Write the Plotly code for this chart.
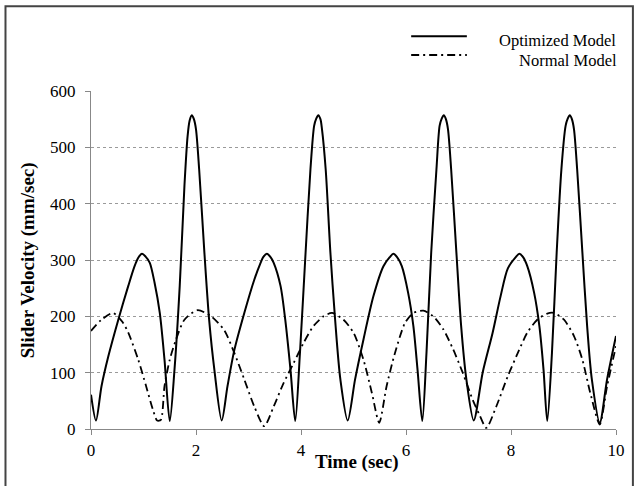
import plotly.graph_objects as go

# Time (sec) and slider velocity (mm/sec)
opt_t = [0.00, 0.095, 0.20, 0.33, 0.52, 0.71, 0.83, 0.90, 0.97, 1.04, 1.12, 1.21, 1.31, 1.40, 1.50,
         1.59, 1.69, 1.78, 1.84, 1.88, 1.92, 1.96, 2.00, 2.06, 2.16, 2.25, 2.35, 2.49,
         2.60, 2.73, 2.92, 3.11, 3.23, 3.28, 3.35, 3.42, 3.48, 3.61, 3.70, 3.80, 3.89,
         3.98, 4.08, 4.18, 4.25, 4.29, 4.33, 4.37, 4.40, 4.47, 4.56, 4.65, 4.75, 4.89,
         5.03, 5.19, 5.38, 5.57, 5.69, 5.76, 5.83, 5.92, 6.04, 6.14, 6.22, 6.31,
         6.39, 6.48, 6.58, 6.64, 6.68, 6.72, 6.76, 6.80, 6.86, 6.96, 7.05, 7.15, 7.29,
         7.46, 7.65, 7.80, 7.94, 8.09, 8.16, 8.23, 8.31, 8.44, 8.54, 8.62, 8.69,
         8.78, 8.87, 8.96, 9.04, 9.08, 9.12, 9.16, 9.20, 9.26, 9.36, 9.45, 9.54, 9.69,
         9.83, 10.00]
opt_v = [61, 15, 76, 129, 194, 254, 289, 304, 311, 306, 295, 260, 206, 123, 14,
         105, 254, 432, 520, 548, 557, 550, 532, 461, 313, 194, 105, 15,
         76, 140, 206, 265, 295, 305, 311, 305, 295, 254, 194, 105, 14,
         135, 301, 461, 538, 551, 557, 550, 532, 461, 313, 194, 88, 15,
         88, 159, 236, 289, 305, 311, 305, 289, 242, 183, 105, 14,
         135, 313, 461, 538, 551, 557, 550, 532, 461, 313, 183, 88, 15,
         100, 171, 235, 285, 305, 311, 305, 289, 242, 183, 105, 14,
         135, 313, 461, 538, 551, 557, 550, 532, 461, 313, 183, 88, 11,
         88, 165]

norm_t = [0.00, 0.20, 0.42, 0.60, 0.71, 0.90, 1.05, 1.18, 1.26, 1.33, 1.40, 1.50, 1.62,
          1.78, 2.03, 2.29, 2.54, 2.73, 2.92, 3.11, 3.30, 3.48, 3.67, 3.86, 4.05,
          4.24, 4.43, 4.59, 4.81, 5.00, 5.19, 5.35, 5.49, 5.63, 5.79, 5.98, 6.14,
          6.33, 6.52, 6.71, 6.90, 7.08, 7.27, 7.40, 7.53, 7.72, 7.94, 8.13, 8.31,
          8.50, 8.69, 8.82, 9.01, 9.20, 9.36, 9.51, 9.69, 9.83, 10.00]
norm_v = [174, 194, 206, 190, 171, 123, 76, 34, 15, 16, 76, 123, 159,
          194, 211, 200, 175, 135, 88, 40, 5, 40, 82, 117, 153,
          183, 200, 206, 194, 171, 123, 64, 11, 76, 135, 188, 206,
          210, 200, 177, 141, 100, 52, 25, 2, 40, 94, 135, 171,
          194, 205, 206, 194, 165, 123, 64, 8, 76, 147]

x_ticks = [0, 2, 4, 6, 8, 10]
y_ticks = [0, 100, 200, 300, 400, 500, 600]

FONT = "Liberation Serif, Times New Roman, serif"
DASHDOT = "8px,4px,2px,4px"

fig = go.Figure()
fig.add_trace(go.Scatter(x=opt_t, y=opt_v, mode="lines", name="Optimized Model",
                         line=dict(color="black", width=2, shape="spline", smoothing=0.8)))
fig.add_trace(go.Scatter(x=norm_t, y=norm_v, mode="lines", name="Normal Model",
                         line=dict(color="black", width=1.8, shape="spline", smoothing=0.7,
                                   dash=DASHDOT)))

fig.update_layout(
    width=637, height=486,
    margin=dict(l=91, r=18, t=91, b=57, pad=0),
    paper_bgcolor="white", plot_bgcolor="white",
    showlegend=False,
    font=dict(family=FONT, size=17, color="black"),
)
fig.update_xaxes(range=[0, 10], tickvals=x_ticks, ticks="outside", ticklen=5,
                 tickcolor="#888888", showline=True, linecolor="#888888", linewidth=1,
                 showgrid=False, zeroline=False, ticklabelstandoff=1,
                 tickfont=dict(family=FONT, size=17, color="black"))
fig.update_yaxes(range=[0, 600], tickvals=y_ticks, ticks="outside", ticklen=5,
                 tickcolor="#888888", showline=True, linecolor="#888888", linewidth=1,
                 showgrid=True, gridcolor="#9a9a9a", griddash="dot", gridwidth=1,
                 zeroline=False, ticklabelstandoff=6,
                 tickfont=dict(family=FONT, size=17, color="black"))

# axis titles
fig.add_annotation(text="<b>Time (sec)</b>", xref="paper", yref="paper",
                   x=(359 - 91) / 528, y=(428.7 - 462) / 338, showarrow=False,
                   xanchor="center", yanchor="middle",
                   font=dict(family=FONT, size=19, color="black"))
fig.add_annotation(text="<b>Slider Velocity (mm/sec)</b>", xref="paper", yref="paper",
                   x=(28 - 91) / 528, y=0.5, showarrow=False, textangle=-90,
                   xanchor="center", yanchor="middle",
                   font=dict(family=FONT, size=19, color="black"))

# legend
fig.add_shape(type="line", xref="paper", yref="paper",
              x0=(413 - 91) / 528, x1=(469 - 91) / 528,
              y0=(428.7 - 36) / 338, y1=(428.7 - 36) / 338,
              line=dict(color="black", width=2))
fig.add_shape(type="line", xref="paper", yref="paper",
              x0=(413 - 91) / 528, x1=(469 - 91) / 528,
              y0=(428.7 - 54.7) / 338, y1=(428.7 - 54.7) / 338,
              line=dict(color="black", width=1.8, dash=DASHDOT))
fig.add_annotation(text="Optimized Model", xref="paper", yref="paper",
                   x=(621 - 91) / 528, y=(428.7 - 40.7) / 338, showarrow=False,
                   xanchor="right", yanchor="middle",
                   font=dict(family=FONT, size=16.5, color="black"))
fig.add_annotation(text="Normal Model", xref="paper", yref="paper",
                   x=(622 - 91) / 528, y=(428.7 - 60) / 338, showarrow=False,
                   xanchor="right", yanchor="middle",
                   font=dict(family=FONT, size=16.5, color="black"))

# outer frame
fig.add_shape(type="rect", xref="paper", yref="paper",
              x0=(5 - 91) / 528, x1=(636 - 91) / 528,
              y0=(428.7 - 495) / 338, y1=(428.7 - 6) / 338,
              line=dict(color="#444444", width=2), fillcolor="rgba(0,0,0,0)", layer="below")

fig.write_html("out.html", config={"displayModeBar": False},
               post_script="document.body.style.margin='0';document.body.style.padding='0';")
